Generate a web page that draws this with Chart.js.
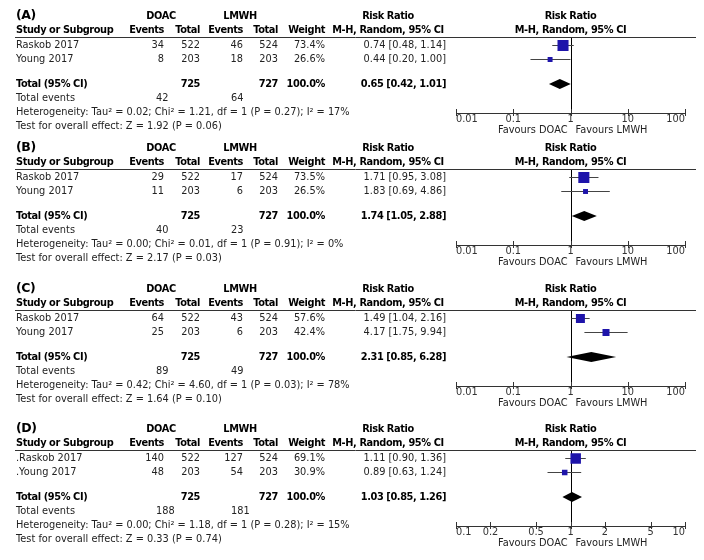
<!DOCTYPE html>
<html>
<head>
<meta charset="utf-8">
<script src="https://cdn.jsdelivr.net/npm/chart.js@4.4.1/dist/chart.umd.min.js"></script>
<style>
  html, body { margin: 0; padding: 0; background: #fff; }
  body { width: 704px; height: 560px; position: relative; overflow: hidden; }
  canvas { position: absolute; left: 0; }
</style>
</head>
<body>
<canvas id="panel0" width="704" height="140"></canvas>
<canvas id="panel1" width="704" height="141"></canvas>
<canvas id="panel2" width="704" height="140"></canvas>
<canvas id="panel3" width="704" height="147"></canvas>
<script>
// ---------------- DATA ----------------
const panelLabels = ['(A)', '(B)', '(C)', '(D)'];
const studyNames = [
  ['Raskob 2017', 'Young 2017'],
  ['Raskob 2017', 'Young 2017'],
  ['Raskob 2017', 'Young 2017'],
  ['.Raskob 2017', '.Young 2017']
];
const doacEvents = [[34, 8], [29, 11], [64, 25], [140, 48]];
const doacTotal = [522, 203];
const lmwhEvents = [[46, 18], [17, 6], [43, 6], [127, 54]];
const lmwhTotal = [524, 203];
const weights = [[73.4, 26.6], [73.5, 26.5], [57.6, 42.4], [69.1, 30.9]];
const riskRatio = [[0.74, 0.44], [1.71, 1.83], [1.49, 4.17], [1.11, 0.89]];
const ciLower = [[0.48, 0.20], [0.95, 0.69], [1.04, 1.75], [0.90, 0.63]];
const ciUpper = [[1.14, 1.00], [3.08, 4.86], [2.16, 9.94], [1.36, 1.24]];
const pooledRR = [0.65, 1.74, 2.31, 1.03];
const pooledLower = [0.42, 1.05, 0.85, 0.85];
const pooledUpper = [1.01, 2.88, 6.28, 1.26];
const totalDoacEvents = [42, 40, 89, 188];
const totalLmwhEvents = [64, 23, 49, 181];
const tau2 = ['0.02', '0.00', '0.42', '0.00'];
const chi2 = ['1.21', '0.01', '4.60', '1.18'];
const dfValues = [1, 1, 1, 1];
const hetP = ['0.27', '0.91', '0.03', '0.28'];
const iSquared = [17, 0, 78, 15];
const zStat = ['1.92', '2.17', '1.64', '0.33'];
const zP = ['0.06', '0.03', '0.10', '0.74'];
const axisTicks = [
  [0.01, 0.1, 1, 10, 100],
  [0.01, 0.1, 1, 10, 100],
  [0.01, 0.1, 1, 10, 100],
  [0.1, 0.2, 0.5, 1, 2, 5, 10]
];
const groupLeft = 'DOAC', groupRight = 'LMWH';
const favoursLeft = 'Favours DOAC', favoursRight = 'Favours LMWH';

// ---------------- LAYOUT / STYLE ----------------
const FONT = '"DejaVu Sans", Verdana, sans-serif';
const FS = 9.8;
const PANEL_TOP = [0, 132, 273, 413];
const PLOT_LEFT = 456, PLOT_RIGHT = 685;
const RULE_Y = 38, AXIS_Y = 113, AXIS_BOX = 20;
const ROW_PX = 14, FIRST_ROW = 7.5;
const ROW = { label: -2.1, group: -2.04, colHead: -1.04, total: 2.75, events: 3.8, het: 4.8, test: 5.8, favours: 6.04 };
const COL = { study: 16, dEv: 164, dTot: 200, lEv: 243, lTot: 278, weight: 325, rrText: 446, rrHead: 388,
              doacHead: 161, lmwhHead: 240, teDoac: 156, teLmwh: 231, ruleLeft: 15, ruleRight: 696 };
const BLUE = '#1e14aa';

function fmt2(v) { return v.toFixed(2); }
function sum(a) { return a.reduce((s, v) => s + v, 0); }

function txt(ctx, s, x, y, align, bold, size, color) {
  ctx.font = (bold ? 'bold ' : '') + (size || FS) + 'px ' + FONT;
  if ('letterSpacing' in ctx) ctx.letterSpacing = bold ? '-0.4px' : '0px';
  ctx.textAlign = align;
  ctx.textBaseline = 'middle';
  ctx.fillStyle = color || (bold ? '#000' : '#222');
  ctx.fillText(s, x, y);
}

function forestPlugin(p) {
  return {
    id: 'forest' + p,
    beforeDatasetsDraw(chart) {
      const { ctx, chartArea, scales: { x } } = chart;
      ctx.save();
      ctx.lineWidth = 1;
      // header rule
      ctx.strokeStyle = '#333';
      const ry = Math.round(chartArea.top) - 0.5;
      ctx.beginPath(); ctx.moveTo(COL.ruleLeft, ry); ctx.lineTo(COL.ruleRight, ry); ctx.stroke();
      // line of no effect
      ctx.strokeStyle = '#000';
      const x1 = Math.round(x.getPixelForValue(1)) + 0.5;
      ctx.beginPath(); ctx.moveTo(x1, chartArea.top); ctx.lineTo(x1, chartArea.bottom); ctx.stroke();
      ctx.restore();
    },
    afterDatasetsDraw(chart) {
      const { ctx, scales: { x, y } } = chart;
      // pooled diamond
      const yc = y.getPixelForValue(ROW.total);
      const h = 5;
      const xl = x.getPixelForValue(pooledLower[p]);
      const xm = x.getPixelForValue(pooledRR[p]);
      const xr = x.getPixelForValue(pooledUpper[p]);
      ctx.save();
      ctx.fillStyle = '#000';
      ctx.beginPath();
      ctx.moveTo(xl, yc); ctx.lineTo(xm, yc - h); ctx.lineTo(xr, yc); ctx.lineTo(xm, yc + h);
      ctx.closePath(); ctx.fill();
      ctx.restore();
    },
    afterDraw(chart) {
      const { ctx, chartArea, scales: { x, y } } = chart;
      ctx.save();
      // tick marks crossing the axis
      ctx.strokeStyle = '#333'; ctx.lineWidth = 1;
      x.ticks.forEach((t, i) => {
        const px = Math.round(x.getPixelForTick(i)) + 0.5;
        ctx.beginPath(); ctx.moveTo(px, chartArea.bottom - 4); ctx.lineTo(px, chartArea.bottom + 3); ctx.stroke();
      });
      const Y = v => y.getPixelForValue(v);
      const plotMid = (chartArea.left + chartArea.right) / 2;
      // panel label and group headers
      txt(ctx, panelLabels[p], COL.study, Y(ROW.label), 'left', true, 12.5);
      txt(ctx, groupLeft, COL.doacHead, Y(ROW.group), 'center', true);
      txt(ctx, groupRight, COL.lmwhHead, Y(ROW.group), 'center', true);
      txt(ctx, 'Risk Ratio', COL.rrHead, Y(ROW.group), 'center', true);
      txt(ctx, 'Risk Ratio', plotMid, Y(ROW.group), 'center', true);
      // column headers
      const ch = Y(ROW.colHead);
      txt(ctx, 'Study or Subgroup', COL.study, ch, 'left', true);
      txt(ctx, 'Events', COL.dEv, ch, 'right', true);
      txt(ctx, 'Total', COL.dTot, ch, 'right', true);
      txt(ctx, 'Events', COL.lEv, ch, 'right', true);
      txt(ctx, 'Total', COL.lTot, ch, 'right', true);
      txt(ctx, 'Weight', COL.weight, ch, 'right', true);
      txt(ctx, 'M-H, Random, 95% CI', COL.rrHead, ch, 'center', true);
      txt(ctx, 'M-H, Random, 95% CI', plotMid, ch, 'center', true);
      // study rows
      studyNames[p].forEach((name, i) => {
        const ry = Y(i);
        txt(ctx, name, COL.study, ry, 'left');
        txt(ctx, String(doacEvents[p][i]), COL.dEv, ry, 'right');
        txt(ctx, String(doacTotal[i]), COL.dTot, ry, 'right');
        txt(ctx, String(lmwhEvents[p][i]), COL.lEv, ry, 'right');
        txt(ctx, String(lmwhTotal[i]), COL.lTot, ry, 'right');
        txt(ctx, weights[p][i].toFixed(1) + '%', COL.weight, ry, 'right');
        txt(ctx, fmt2(riskRatio[p][i]) + ' [' + fmt2(ciLower[p][i]) + ', ' + fmt2(ciUpper[p][i]) + ']', COL.rrText, ry, 'right');
      });
      // total row
      const ty = Y(ROW.total);
      txt(ctx, 'Total (95% CI)', COL.study, ty, 'left', true);
      txt(ctx, String(sum(doacTotal)), COL.dTot, ty, 'right', true);
      txt(ctx, String(sum(lmwhTotal)), COL.lTot, ty, 'right', true);
      txt(ctx, sum(weights[p]).toFixed(1) + '%', COL.weight, ty, 'right', true);
      txt(ctx, fmt2(pooledRR[p]) + ' [' + fmt2(pooledLower[p]) + ', ' + fmt2(pooledUpper[p]) + ']', COL.rrText, ty, 'right', true);
      // total events
      const ey = Y(ROW.events);
      txt(ctx, 'Total events', COL.study, ey, 'left');
      txt(ctx, String(totalDoacEvents[p]), COL.teDoac, ey, 'left');
      txt(ctx, String(totalLmwhEvents[p]), COL.teLmwh, ey, 'left');
      // heterogeneity & test
      txt(ctx, 'Heterogeneity: Tau\u00B2 = ' + tau2[p] + '; Chi\u00B2 = ' + chi2[p] + ', df = ' + dfValues[p] +
        ' (P = ' + hetP[p] + '); I\u00B2 = ' + iSquared[p] + '%', COL.study, Y(ROW.het), 'left');
      txt(ctx, 'Test for overall effect: Z = ' + zStat[p] + ' (P = ' + zP[p] + ')', COL.study, Y(ROW.test), 'left');
      // favours labels
      const x1 = x.getPixelForValue(1);
      txt(ctx, favoursLeft, x1 - 3, Y(ROW.favours), 'right');
      txt(ctx, favoursRight, x1 + 5, Y(ROW.favours), 'left');
      ctx.restore();
    }
  };
}

function buildPanel(p) {
  const canvas = document.getElementById('panel' + p);
  canvas.style.top = PANEL_TOP[p] + 'px';
  const H = canvas.height;
  const ticks = axisTicks[p];
  const datasets = [];
  // squares (drawn on top => first dataset)
  datasets.push({
    data: riskRatio[p].map((v, i) => ({ x: v, y: i })),
    pointStyle: 'rect',
    backgroundColor: BLUE,
    borderWidth: 0,
    pointBorderWidth: 0,
    pointRadius: c => (1.5 + 0.13 * weights[p][c.dataIndex]) / Math.SQRT2,
    showLine: false
  });
  // confidence-interval lines
  riskRatio[p].forEach((v, i) => {
    datasets.push({
      data: [{ x: ciLower[p][i], y: i }, { x: ciUpper[p][i], y: i }],
      showLine: true,
      borderColor: '#444',
      borderWidth: 1,
      pointRadius: 0,
      fill: false
    });
  });
  new Chart(canvas, {
    type: 'scatter',
    data: { datasets },
    options: {
      responsive: false,
      animation: false,
      devicePixelRatio: 1,
      events: [],
      layout: { padding: { left: PLOT_LEFT, right: 704 - PLOT_RIGHT, top: RULE_Y, bottom: H - AXIS_Y - AXIS_BOX } },
      plugins: { legend: { display: false }, tooltip: { enabled: false } },
      scales: {
        x: {
          type: 'logarithmic',
          position: 'bottom',
          min: ticks[0],
          max: ticks[ticks.length - 1],
          afterBuildTicks: s => { s.ticks = ticks.map(v => ({ value: v })); },
          afterFit: s => { s.height = AXIS_BOX; },
          grid: { display: false, drawTicks: false },
          border: { display: true, color: '#333', width: 1 },
          ticks: {
            align: 'inner', autoSkip: false, maxRotation: 0, minRotation: 0, padding: 1,
            color: '#333', font: { family: FONT, size: FS },
            callback: v => String(v)
          }
        },
        y: {
          type: 'linear',
          display: false,
          reverse: true,
          min: -FIRST_ROW / ROW_PX,
          max: (AXIS_Y - RULE_Y - FIRST_ROW) / ROW_PX
        }
      }
    },
    plugins: [forestPlugin(p)]
  });
}

[0, 1, 2, 3].forEach(buildPanel);
</script>
</body>
</html>
